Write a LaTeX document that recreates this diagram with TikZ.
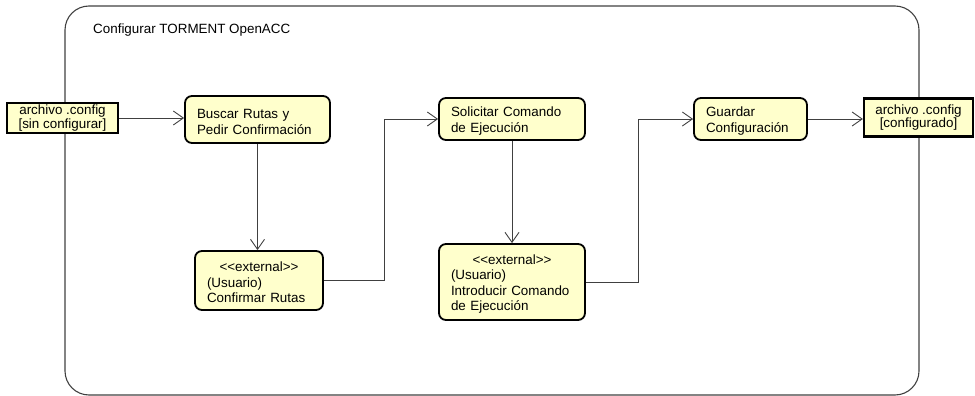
\documentclass[tikz,border=0pt]{standalone}
\usepackage{fontspec}
\setmainfont{Liberation Sans}
\usetikzlibrary{arrows.meta}
\definecolor{actfill}{RGB}{255,255,204}
\definecolor{wire}{RGB}{64,64,64}
\tikzset{
  base/.style={font=\fontsize{13.4}{15.5}\selectfont},
  action/.style={base, draw=black, line width=1.8pt, fill=actfill,
    rounded corners=7pt, align=left, inner xsep=12pt, inner ysep=0pt},
  pin/.style={base, draw=black, line width=2.2pt, fill=actfill,
    align=center, inner sep=0pt, font=\fontsize{13.4}{13.4}\selectfont},
  flow/.style={draw=wire, line width=0.9pt,
    -{Straight Barb[length=10pt,width=14pt,line width=0.9pt]}},
  frame/.style={draw=wire, line width=1.1pt, rounded corners=24pt}
}
% first-line strut that lowers the centred text block slightly
\newcommand{\toppad}{\rule{0pt}{14pt}}
\begin{document}
\begin{tikzpicture}[x=1pt,y=-1pt]
\useasboundingbox (0,0) rectangle (975,396);

% activity frame and its name
\draw[frame] (65,6) rectangle (919,395);
\node[base, anchor=west, inner sep=0pt] (title) at (93,30) {Configurar TORMENT OpenACC};

% actions
\node[action, text width=121pt, minimum height=47pt] (buscar) at (257.5,119.5)
  {\toppad Buscar Rutas y\\Pedir Confirmación};
\node[action, text width=104pt, minimum height=59pt] (confirmar) at (259,280.5)
  {\toppad\makebox[104pt][c]{<{}<external>{}>}\\(Usuario)\\Confirmar Rutas};
\node[action, text width=122pt, minimum height=42pt] (solicitar) at (512,119)
  {\toppad Solicitar Comando\\de Ejecución};
\node[action, text width=122pt, minimum height=76pt] (introducir) at (512,282)
  {\toppad\makebox[122pt][c]{<{}<external>{}>}\\(Usuario)\\Introducir Comando\\de Ejecución};
\node[action, text width=89pt, minimum height=42pt] (guardar) at (750.5,119)
  {\toppad Guardar\\Configuración};

% parameter pins on the frame border
\node[pin, minimum width=111pt, minimum height=30pt] (cfgin) at (62.5,118)
  {archivo .config\\{}[sin configurar]};
\node[pin, minimum width=109pt, minimum height=38pt] (cfgout) at (918.5,117.5)
  {archivo .config\\{}[configurado]};

% control flow
\draw[flow] (cfgin.east) -- (cfgin.east -| buscar.west);
\draw[flow] (buscar.south) -- (buscar.south |- confirmar.north);
\draw[flow] (confirmar.east) -- ++(61,0) |- (solicitar.west);
\draw[flow] (solicitar.south) -- (introducir.north);
\draw[flow] (introducir.east) -- ++(53,0) |- (guardar.west);
\draw[flow] (guardar.east) -- (guardar.east -| cfgout.west);
\end{tikzpicture}
\end{document}
